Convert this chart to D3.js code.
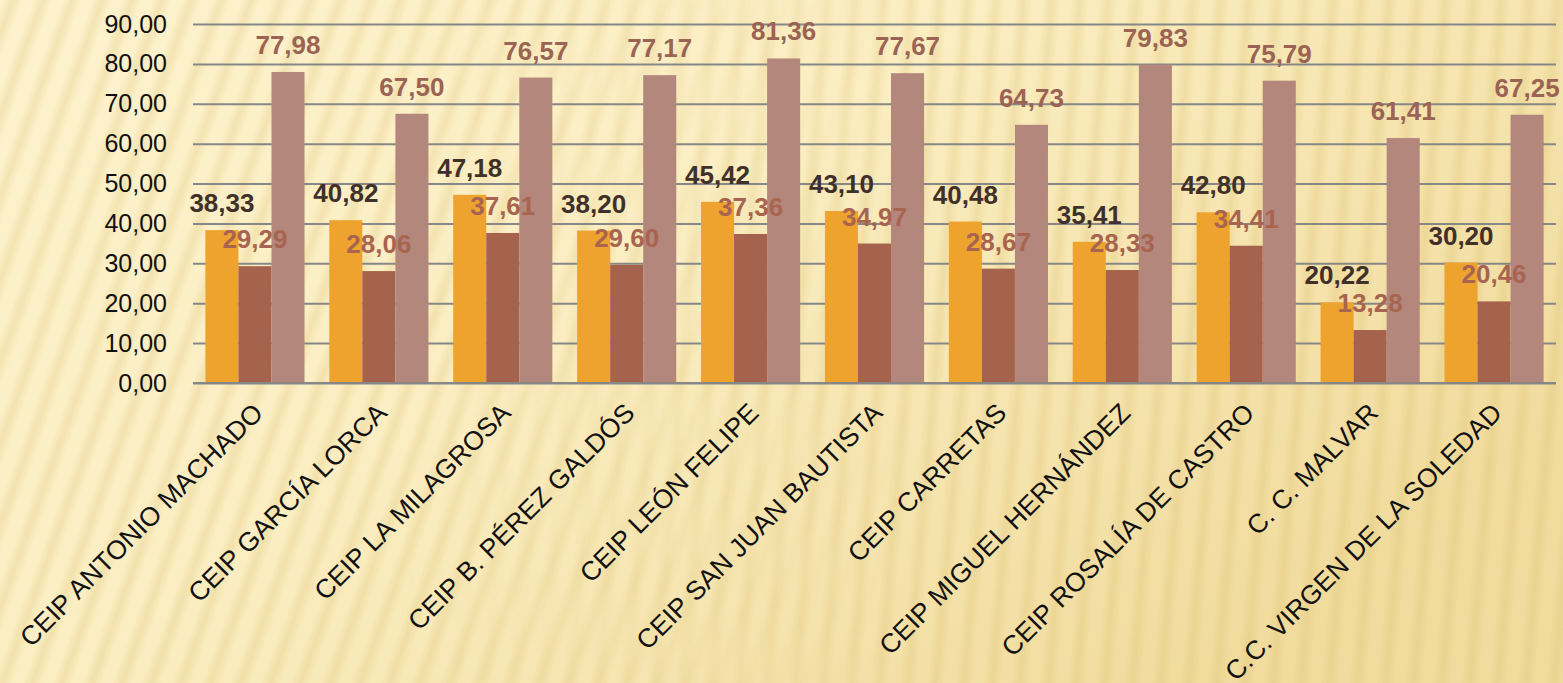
<!DOCTYPE html>
<html>
<head>
<meta charset="utf-8">
<script src="https://cdn.jsdelivr.net/npm/d3@7"></script>
<style>
  body { margin: 0; overflow: hidden; background: #fbefc6; }
  svg { display: block; font-family: "Liberation Sans", Arial, sans-serif; }
</style>
</head>
<body>
<svg id="chart" width="1563" height="683"></svg>
<script>
// chart data
var schools = [
  "CEIP ANTONIO MACHADO", "CEIP GARCÍA LORCA", "CEIP LA MILAGROSA",
  "CEIP B. PÉREZ GALDÓS", "CEIP LEÓN FELIPE", "CEIP SAN JUAN BAUTISTA",
  "CEIP CARRETAS", "CEIP MIGUEL HERNÁNDEZ", "CEIP ROSALÍA DE CASTRO",
  "C. C. MALVAR", "C.C. VIRGEN DE LA SOLEDAD"
];
var serieA = [38.33, 40.82, 47.18, 38.20, 45.42, 43.10, 40.48, 35.41, 42.80, 20.22, 30.20];
var serieB = [29.29, 28.06, 37.61, 29.60, 37.36, 34.97, 28.67, 28.33, 34.41, 13.28, 20.46];
var serieC = [77.98, 67.50, 76.57, 77.17, 81.36, 77.67, 64.73, 79.83, 75.79, 61.41, 67.25];
var yTicks = [0, 10, 20, 30, 40, 50, 60, 70, 80, 90];

var seriesKeys = ["a", "b", "c"];
var barColours = { a: "#eea32e", b: "#a5634e", c: "#b3877c" };
var labelColours = { a: "#3f3129", b: "#a8644e", c: "#9b6353" };

var svg = d3.select("#chart");
var W = 1563, H = 683;

// background: paper texture, soft gradient + slanted stripes
var defs = svg.append("defs");
var bg = defs.append("linearGradient").attr("id", "bgGrad")
  .attr("x1", "0").attr("y1", "0").attr("x2", "1").attr("y2", "0.6");
bg.append("stop").attr("offset", "0").attr("stop-color", "#fdf2cd");
bg.append("stop").attr("offset", "0.45").attr("stop-color", "#fbeec3");
bg.append("stop").attr("offset", "1").attr("stop-color", "#f1dc9e");

var stripeGrad = defs.append("linearGradient").attr("id", "stripeGrad")
  .attr("x1", "0").attr("y1", "0").attr("x2", "1").attr("y2", "0");
stripeGrad.append("stop").attr("offset", "0").attr("stop-color", "#d6b75c").attr("stop-opacity", 0);
stripeGrad.append("stop").attr("offset", "0.5").attr("stop-color", "#d6b75c").attr("stop-opacity", 0.22);
stripeGrad.append("stop").attr("offset", "1").attr("stop-color", "#d6b75c").attr("stop-opacity", 0);

// two stripe layers, steeper on the left, almost upright on the right
function addStripes(id, angle) {
  defs.append("pattern").attr("id", id)
    .attr("patternUnits", "userSpaceOnUse")
    .attr("width", 28).attr("height", 28)
    .attr("patternTransform", "rotate(" + angle + ")")
    .append("rect").attr("x", 3).attr("width", 18).attr("height", 28)
    .attr("fill", "url(#stripeGrad)");
}
addStripes("stripesL", 20);
addStripes("stripesR", 5);

var fadeL = defs.append("linearGradient").attr("id", "fadeL")
  .attr("x1", "0").attr("x2", "1").attr("y1", "0").attr("y2", "0");
fadeL.append("stop").attr("offset", "0.25").attr("stop-color", "#fff");
fadeL.append("stop").attr("offset", "0.6").attr("stop-color", "#000");
defs.append("mask").attr("id", "maskL").append("rect")
  .attr("width", W).attr("height", H).attr("fill", "url(#fadeL)");

var fadeR = defs.append("linearGradient").attr("id", "fadeR")
  .attr("x1", "0").attr("x2", "1").attr("y1", "0").attr("y2", "0");
fadeR.append("stop").attr("offset", "0.25").attr("stop-color", "#000");
fadeR.append("stop").attr("offset", "0.6").attr("stop-color", "#fff");
defs.append("mask").attr("id", "maskR").append("rect")
  .attr("width", W).attr("height", H).attr("fill", "url(#fadeR)");

svg.append("rect").attr("width", W).attr("height", H).attr("fill", "url(#bgGrad)");
svg.append("rect").attr("width", W).attr("height", H).attr("fill", "url(#stripesL)").attr("mask", "url(#maskL)");
svg.append("rect").attr("width", W).attr("height", H).attr("fill", "url(#stripesR)").attr("mask", "url(#maskR)");

// scales
var x0 = d3.scaleBand().domain(schools).range([193, 1556])
  .paddingInner(0.2).paddingOuter(0.1);
var x1 = d3.scaleBand().domain(seriesKeys).range([0, x0.bandwidth()]);
var y = d3.scaleLinear().domain([0, 90]).range([383, 24]);

var es = d3.formatLocale({ decimal: ",", thousands: ".", grouping: [3], currency: ["", " €"] });
var fmt = es.format(".2f");

// y axis with gridlines
var yAxis = svg.append("g")
  .attr("transform", "translate(193,0)")
  .call(d3.axisLeft(y).tickValues(yTicks).tickFormat(fmt)
    .tickSize(-(1556 - 193)).tickPadding(26));
yAxis.select(".domain").remove();
yAxis.selectAll(".tick line").attr("stroke", "#878787").attr("stroke-width", 2);
yAxis.selectAll(".tick text")
  .attr("fill", "#111").attr("font-size", 25)
  .attr("font-family", "'Liberation Sans', Arial, sans-serif");

// rows: one entry per school
var rows = schools.map(function (s, i) {
  return { school: s, a: serieA[i], b: serieB[i], c: serieC[i] };
});

var groups = svg.append("g").selectAll("g")
  .data(rows).join("g")
  .attr("transform", function (d) { return "translate(" + x0(d.school) + ",0)"; });

groups.selectAll("rect")
  .data(function (d) { return seriesKeys.map(function (k) { return { key: k, value: d[k] }; }); })
  .join("rect")
  .attr("x", function (d) { return x1(d.key); })
  .attr("y", function (d) { return y(d.value); })
  .attr("width", x1.bandwidth())
  .attr("height", function (d) { return y(0) - y(d.value); })
  .attr("fill", function (d) { return barColours[d.key]; });

// baseline redrawn over the bars
svg.append("line")
  .attr("x1", 193).attr("x2", 1556).attr("y1", y(0)).attr("y2", y(0))
  .attr("stroke", "#878787").attr("stroke-width", 2);

// value labels
groups.selectAll("text.val")
  .data(function (d) { return seriesKeys.map(function (k) { return { key: k, value: d[k] }; }); })
  .join("text")
  .attr("class", "val")
  .attr("x", function (d) { return x1(d.key) + x1.bandwidth() / 2; })
  .attr("y", function (d) { return y(d.value) - 18; })
  .attr("text-anchor", "middle")
  .attr("font-size", 26).attr("font-weight", "bold")
  .attr("fill", function (d) { return labelColours[d.key]; })
  .text(function (d) { return fmt(d.value); });

// category labels, rotated
svg.append("g").selectAll("text")
  .data(schools).join("text")
  .attr("transform", function (d) {
    return "translate(" + (x0(d) + x0.bandwidth() / 2 + 3) + ",408) rotate(-45)";
  })
  .attr("text-anchor", "end")
  .attr("dy", "0.35em")
  .attr("font-size", 26.5)
  .attr("fill", "#111")
  .text(function (d) { return d; });
</script>
</body>
</html>
